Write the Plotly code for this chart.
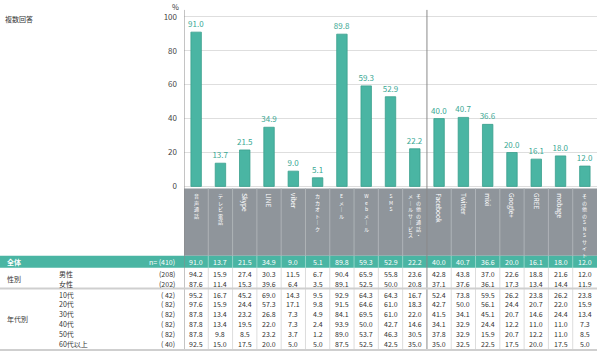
import plotly.graph_objects as go

categories = ["音声通話", "テレビ電話", "Skype", "LINE", "viber", "カカオトーク", "Eメール", "Webメール",
              "SMS", "その他の通話・メールサービス", "Facebook", "Twitter", "mixi", "Google+", "GREE",
              "mobage", "その他のSNSサイト"]
overall = [91.0, 13.7, 21.5, 34.9, 9.0, 5.1, 89.8, 59.3, 52.9, 22.2, 40.0, 40.7, 36.6, 20.0, 16.1, 18.0, 12.0]

row_groups = ["性別", "性別", "年代別", "年代別", "年代別", "年代別", "年代別", "年代別"]
row_labels = ["男性", "女性", "10代", "20代", "30代", "40代", "50代", "60代以上"]
row_n = ["(208)", "(202)", "( 42)", "( 82)", "( 82)", "( 82)", "( 82)", "( 40)"]
row_values = [
    [94.2, 15.9, 27.4, 30.3, 11.5, 6.7, 90.4, 65.9, 55.8, 23.6, 42.8, 43.8, 37.0, 22.6, 18.8, 21.6, 12.0],
    [87.6, 11.4, 15.3, 39.6, 6.4, 3.5, 89.1, 52.5, 50.0, 20.8, 37.1, 37.6, 36.1, 17.3, 13.4, 14.4, 11.9],
    [95.2, 16.7, 45.2, 69.0, 14.3, 9.5, 92.9, 64.3, 64.3, 16.7, 52.4, 73.8, 59.5, 26.2, 23.8, 26.2, 23.8],
    [97.6, 15.9, 24.4, 57.3, 17.1, 9.8, 91.5, 64.6, 61.0, 18.3, 42.7, 50.0, 56.1, 24.4, 20.7, 22.0, 15.9],
    [87.8, 13.4, 23.2, 26.8, 7.3, 4.9, 84.1, 69.5, 61.0, 22.0, 41.5, 34.1, 45.1, 20.7, 14.6, 24.4, 13.4],
    [87.8, 13.4, 19.5, 22.0, 7.3, 2.4, 93.9, 50.0, 42.7, 14.6, 34.1, 32.9, 24.4, 12.2, 11.0, 11.0, 7.3],
    [87.8, 9.8, 8.5, 23.2, 3.7, 1.2, 89.0, 53.7, 46.3, 30.5, 37.8, 32.9, 15.9, 20.7, 12.2, 11.0, 8.5],
    [92.5, 15.0, 17.5, 20.0, 5.0, 5.0, 87.5, 52.5, 42.5, 35.0, 35.0, 32.5, 22.5, 17.5, 20.0, 17.5, 5.0],
]
y_ticks = [0, 20, 40, 60, 80, 100]

W, H = 600, 357
FONT = "Noto Sans CJK JP"
TEAL = "#4ab5a3"
BAND = "#8f959b"
N = len(categories)
xs = list(range(N))


def py(p):
    return 1 - p / H


fig = go.Figure()
fig.add_trace(go.Bar(
    x=xs, y=overall, width=0.43,
    marker=dict(color=TEAL, line=dict(color="#3a9f8d", width=0.8)),
    text=[f"{v:.1f}" for v in overall], textposition="outside", cliponaxis=False,
    constraintext="none",
    textfont=dict(color="#3aa894", size=8, family=FONT),
    hoverinfo="skip",
))

shapes = []
ann = []

# label band
shapes.append(dict(type="rect", xref="x", yref="paper", x0=-0.5, x1=N - 0.5, y0=py(190), y1=py(258),
                   fillcolor=BAND, line_width=0, layer="below"))
# teal overall row
shapes.append(dict(type="rect", xref="paper", yref="paper", x0=0, x1=597 / W, y0=py(258), y1=py(270),
                   fillcolor=TEAL, line_width=0, layer="below"))
# column separators
for i in range(1, N):
    b = i - 0.5
    if i == 10:
        continue
    shapes.append(dict(type="line", xref="x", yref="paper", x0=b, x1=b, y0=py(190), y1=py(258),
                       line=dict(color="#aeb3b7", width=1)))
    shapes.append(dict(type="line", xref="x", yref="paper", x0=b, x1=b, y0=py(258), y1=py(270),
                       line=dict(color="#8fd4c8", width=1)))
    shapes.append(dict(type="line", xref="x", yref="paper", x0=b, x1=b, y0=py(270), y1=py(353),
                       line=dict(color="#dddddd", width=1)))
# left edge and divider
for b, top in [(-0.5, 10), (9.5, 10)]:
    shapes.append(dict(type="line", xref="x", yref="paper", x0=b, x1=b, y0=py(top), y1=py(353),
                       line=dict(color="#8a8a8a", width=1)))
# horizontal separators
for yy in (291, 353):
    shapes.append(dict(type="line", xref="paper", yref="paper", x0=0, x1=597 / W, y0=py(yy), y1=py(yy),
                       line=dict(color="#cfcfcf", width=2)))


# category labels (vertical writing: characters stacked)
def stacked(text, xpix_off, i, top=193):
    disp = "<br>".join("｜" if ch == "ー" else ch for ch in text)
    ann.append(dict(x=i, xref="x", xshift=xpix_off, y=py(top), yref="paper",
                    text=disp, showarrow=False, xanchor="center", yanchor="top", borderpad=0,
                    font=dict(color="white", size=5, family=FONT)))


for i, c in enumerate(categories):
    if c == "その他の通話・メールサービス":
        stacked("その他の通話・", 4, i)
        stacked("メールサービス", -4, i)
    elif c.isascii() and c != "SMS":
        ann.append(dict(x=i, xref="x", y=py(194), yref="paper", text=c, textangle=90, showarrow=False,
                        xanchor="center", yanchor="top", borderpad=0,
                        font=dict(color="white", size=6.5, family=FONT)))
    else:
        stacked(c, 0, i)

# table: overall row
ROWY = [276, 286, 297, 307, 317, 326.5, 336.5, 347]
tf = dict(size=7, family=FONT, color="#333333")
ann.append(dict(x=5 / W, xref="paper", y=py(264), yref="paper", text="<b>全体</b>", showarrow=False,
                xanchor="left", yanchor="middle", font=dict(size=7, family=FONT, color="white")))
ann.append(dict(x=177 / W, xref="paper", y=py(264), yref="paper", text="n= (410)", showarrow=False,
                xanchor="right", yanchor="middle", font=dict(size=7, family=FONT, color="white")))
for i, v in enumerate(overall):
    ann.append(dict(x=i, xref="x", y=py(264), yref="paper", text=f"{v:.1f}", showarrow=False,
                    xanchor="center", yanchor="middle", font=dict(size=7, family=FONT, color="white")))

for r, (lab, n, vals) in enumerate(zip(row_labels, row_n, row_values)):
    yy = py(ROWY[r])
    ann.append(dict(x=57 / W, xref="paper", y=yy, yref="paper", text=lab, showarrow=False,
                    xanchor="left", yanchor="middle", font=tf))
    ann.append(dict(x=177 / W, xref="paper", y=yy, yref="paper", text=n, showarrow=False,
                    xanchor="right", yanchor="middle", font=tf))
    for i, v in enumerate(vals):
        ann.append(dict(x=i, xref="x", y=yy, yref="paper", text=f"{v:.1f}", showarrow=False,
                        xanchor="center", yanchor="middle", font=tf))

# group labels
groups = []
for g in row_groups:
    if g not in groups:
        groups.append(g)
for g in groups:
    idx = [k for k, gg in enumerate(row_groups) if gg == g]
    ymid = (ROWY[idx[0]] + ROWY[idx[-1]]) / 2
    ann.append(dict(x=5 / W, xref="paper", y=py(ymid), yref="paper", text=g, showarrow=False,
                    xanchor="left", yanchor="middle", font=tf))

ann.append(dict(x=3 / W, xref="paper", y=py(19), yref="paper", text="複数回答", showarrow=False,
                xanchor="left", yanchor="middle", font=dict(size=7, family=FONT, color="#333")))
ann.append(dict(x=175 / W, xref="paper", y=py(0), yref="paper", text="%", showarrow=False,
                xanchor="center", yanchor="top", borderpad=0, font=dict(size=7.5, family=FONT, color="#333")))

fig.update_layout(
    width=W, height=H, margin=dict(l=0, r=0, t=0, b=0),
    paper_bgcolor="white", plot_bgcolor="white", showlegend=False,
    font=dict(family=FONT),
    xaxis=dict(domain=[184 / W, 597 / W], range=[-0.5, N - 0.5], showticklabels=False, showgrid=False,
               zeroline=False, showline=False, fixedrange=True),
    yaxis=dict(domain=[py(190), py(10)], range=[-1.17, 104.1], tickvals=y_ticks, showgrid=True,
               gridcolor="#dedede", gridwidth=1, zeroline=False, showline=False, ticks="",
               tickfont=dict(size=8, color="#444", family=FONT), ticklabelstandoff=6),
    shapes=shapes, annotations=ann, bargap=0.5,
)
fig.write_html("out.html", config={"displayModeBar": False},
               post_script="document.body.style.margin='0';document.body.style.overflow='hidden';")
